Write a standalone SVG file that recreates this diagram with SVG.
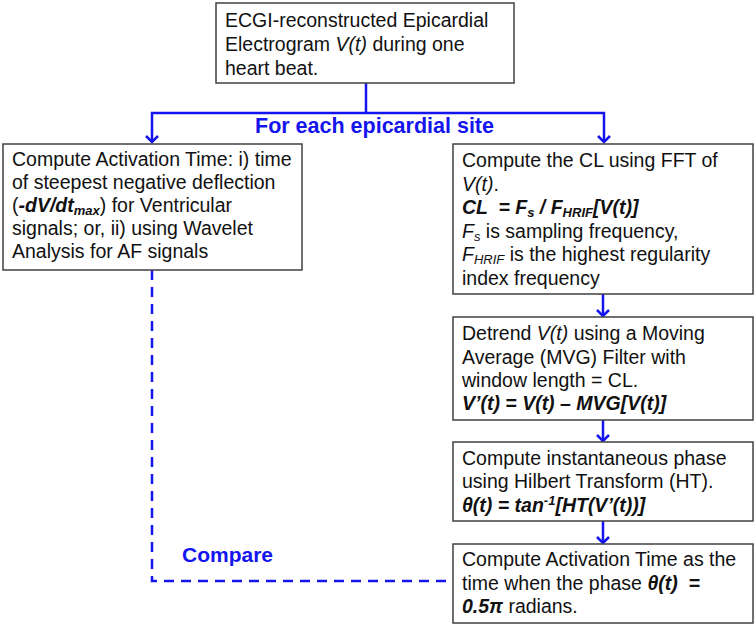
<svg xmlns="http://www.w3.org/2000/svg" width="756" height="627" viewBox="0 0 756 627">
<defs>
<style>
.box{fill:#fff;stroke:#404040;stroke-width:1.5}
.t{font-family:"Liberation Sans",Arial,sans-serif;font-size:19.5px;fill:#111}
.bi{font-weight:bold;font-style:italic}
.i{font-style:italic}
.lbl{font-family:"Liberation Sans",Arial,sans-serif;font-weight:bold;fill:#1414ee}
.con{fill:none;stroke:#1414ee;stroke-width:2.5}
.dash{stroke-dasharray:10,7}
</style>
<marker id="arr" viewBox="-8 -7 10 14" markerWidth="10" markerHeight="14" refX="0" refY="0" orient="auto" markerUnits="userSpaceOnUse">
<path d="M-6,-6 L0,0 L-6,6" fill="none" stroke="#1414ee" stroke-width="2.5"/>
</marker>
</defs>
<g id="connectors">
<path class="con" d="M366,83 V113"/>
<path class="con" d="M366,113 H152 V142" marker-end="url(#arr)"/>
<path class="con" d="M366,113 H604 V142" marker-end="url(#arr)"/>
<path class="con" d="M603,294 V316" marker-end="url(#arr)"/>
<path class="con" d="M603,420 V441" marker-end="url(#arr)"/>
<path class="con" d="M603,521 V543" marker-end="url(#arr)"/>
<path class="con dash" d="M152,270 V581 H453"/>
<text class="lbl" x="255" y="133" font-size="21.5">For each epicardial site</text>
<text class="lbl" x="182" y="562" font-size="21">Compare</text>
</g>
<g id="n-top">
<rect class="box" x="216" y="3" width="298" height="80"/>
<text class="t" x="225" y="27">ECGI-reconstructed Epicardial</text>
<text class="t" x="225" y="51">Electrogram <tspan class="i">V(t)</tspan> during one</text>
<text class="t" x="225" y="75">heart beat.</text>
</g>
<g id="n-left">
<rect class="box" x="3" y="144" width="299" height="126"/>
<text class="t" x="12" y="166">Compute Activation Time: i) time</text>
<text class="t" x="12" y="189">of steepest negative deflection</text>
<text class="t" x="12" y="212">(<tspan class="bi">-dV/dt</tspan><tspan class="bi" font-size="13" dy="3">max</tspan><tspan dy="-3">) for Ventricular</tspan></text>
<text class="t" x="12" y="235">signals; or, ii) using Wavelet</text>
<text class="t" x="12" y="258">Analysis for AF signals</text>
</g>
<g id="n-cl">
<rect class="box" x="453" y="144" width="300" height="150"/>
<text class="t" x="462" y="167">Compute the CL using FFT of</text>
<text class="t" x="462" y="190.6"><tspan class="i">V(t)</tspan>.</text>
<text class="t bi" x="462" y="214.2" xml:space="preserve">CL  = F<tspan font-size="13" dy="3">s</tspan><tspan dy="-3"> / F</tspan><tspan font-size="13" dy="3">HRIF</tspan><tspan dy="-3">[V(t)]</tspan></text>
<text class="t" x="462" y="237.8"><tspan class="i">F</tspan><tspan class="i" font-size="13" dy="3">s</tspan><tspan dy="-3"> is sampling frequency,</tspan></text>
<text class="t" x="462" y="261.4"><tspan class="i">F</tspan><tspan class="i" font-size="13" dy="3">HRIF</tspan><tspan dy="-3"> is the highest regularity</tspan></text>
<text class="t" x="462" y="285">index frequency</text>
</g>
<g id="n-detrend">
<rect class="box" x="453" y="317" width="300" height="103"/>
<text class="t" x="462" y="340">Detrend <tspan class="i">V(t)</tspan> using a Moving</text>
<text class="t" x="462" y="363.5">Average (MVG) Filter with</text>
<text class="t" x="462" y="387">window length = CL.</text>
<text class="t bi" x="462" y="410">V’(t) = V(t) – MVG[V(t)]</text>
</g>
<g id="n-phase">
<rect class="box" x="453" y="442" width="300" height="79"/>
<text class="t" x="462" y="465">Compute instantaneous phase</text>
<text class="t" x="462" y="488">using Hilbert Transform (HT).</text>
<text class="t bi" x="462" y="512">θ(t) = tan<tspan font-size="13" dy="-7">-1</tspan><tspan dy="7">[HT(V’(t))]</tspan></text>
</g>
<g id="n-activation">
<rect class="box" x="453" y="544" width="300" height="79"/>
<text class="t" x="462" y="566">Compute Activation Time as the</text>
<text class="t" x="462" y="590" xml:space="preserve">time when the phase <tspan class="bi">θ(t)  =</tspan></text>
<text class="t" x="462" y="613"><tspan class="bi">0.5π</tspan> radians.</text>
</g>
</svg>
